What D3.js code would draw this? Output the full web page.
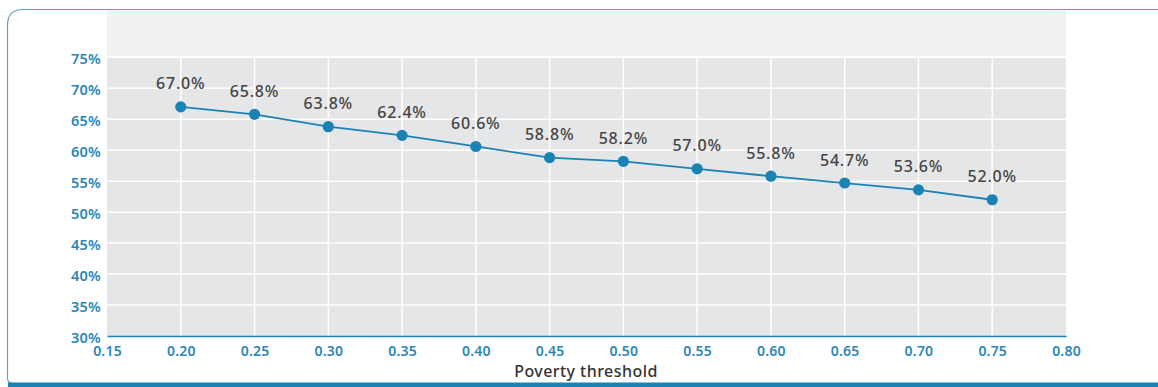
<!DOCTYPE html>
<html>
<head>
<meta charset="utf-8">
<script src="https://cdn.jsdelivr.net/npm/d3@7"></script>
<style>
  html, body { margin: 0; padding: 0; background: #ffffff; }
  svg { display: block; }
</style>
</head>
<body>
<svg id="chart" width="1158" height="387"></svg>
<script>
// Share of population below the poverty line, by threshold
const thresholds = [0.20, 0.25, 0.30, 0.35, 0.40, 0.45, 0.50, 0.55, 0.60, 0.65, 0.70, 0.75];
const shares = [67.0, 65.8, 63.8, 62.4, 60.6, 58.8, 58.2, 57.0, 55.8, 54.7, 53.6, 52.0];
const xTicks = [0.15, 0.20, 0.25, 0.30, 0.35, 0.40, 0.45, 0.50, 0.55, 0.60, 0.65, 0.70, 0.75, 0.80];
const yTicks = [30, 35, 40, 45, 50, 55, 60, 65, 70, 75];
const xTitle = "Poverty threshold";

const FONT = "'Noto Sans', sans-serif";
const BLUE = "#1b82b4";
const TICK_BLUE = "#2a87b8";

const svg = d3.select("#chart");

const plotL = 107, plotR = 1066, plotT = 57.3, plotB = 336;
const x = d3.scaleLinear().domain([0.15, 0.80]).range([plotL, plotR]);
const y = d3.scaleLinear().domain([30, 75]).range([plotB, plotT]);

// Card outline: rounded top-left corner, open to the right
svg.append("path")
  .attr("d", `M1158,9.5 L23,9.5 Q7.5,9.5 7.5,25 L7.5,378 Q7.5,383 12,383`)
  .attr("fill", "none")
  .attr("stroke", "#5aa3cc")
  .attr("stroke-width", 1.2);

// Thick bottom rule
svg.append("rect")
  .attr("x", 8).attr("y", 382.5)
  .attr("width", 1150).attr("height", 5)
  .attr("fill", BLUE);

// Light header band above the plot
svg.append("rect")
  .attr("x", plotL).attr("y", 10.5)
  .attr("width", plotR - plotL).attr("height", plotT - 10.5 - 1)
  .attr("fill", "#f0f1f1");

// Plot background
svg.append("rect")
  .attr("x", plotL).attr("y", plotT)
  .attr("width", plotR - plotL).attr("height", plotB - plotT)
  .attr("fill", "#e5e6e8");

// Gridlines
svg.append("g")
  .selectAll("line")
  .data(yTicks.filter(d => d > 30))
  .join("line")
  .attr("x1", plotL).attr("x2", plotR)
  .attr("y1", d => y(d)).attr("y2", d => y(d))
  .attr("stroke", "#ffffff").attr("stroke-width", 1.5);

svg.append("g")
  .selectAll("line")
  .data(xTicks.filter(d => d > 0.15 && d < 0.80))
  .join("line")
  .attr("x1", d => x(d)).attr("x2", d => x(d))
  .attr("y1", plotT).attr("y2", plotB)
  .attr("stroke", "#ffffff").attr("stroke-width", 1.5);

// Axes
const xAxis = svg.append("g")
  .attr("transform", `translate(0,${plotB})`)
  .call(d3.axisBottom(x).tickValues(xTicks).tickFormat(d3.format(".2f")).tickSize(0).tickPadding(10));
xAxis.select(".domain").attr("stroke", BLUE).attr("stroke-width", 1.5);
xAxis.selectAll("text")
  .attr("fill", TICK_BLUE)
  .style("font-family", FONT).style("font-size", "14px").style("font-weight", 600)
  .style("letter-spacing", "0.2px");

const yAxis = svg.append("g")
  .attr("transform", `translate(${plotL},0)`)
  .call(d3.axisLeft(y).tickValues(yTicks).tickFormat(d => d + "%").tickSize(0).tickPadding(6));
yAxis.select(".domain").remove();
yAxis.selectAll("text")
  .attr("fill", TICK_BLUE)
  .attr("dy", "0.42em")
  .style("font-family", FONT).style("font-size", "14.5px").style("font-weight", 600)
  .style("letter-spacing", "0.2px");

// Axis title
svg.append("text")
  .attr("x", (x(0.15) + x(0.80)) / 2 - 0.5)
  .attr("y", 377)
  .attr("text-anchor", "middle")
  .attr("fill", "#333333")
  .style("font-family", FONT).style("font-size", "16px").style("font-weight", 500)
  .style("letter-spacing", "0.45px")
  .text(xTitle);

// Series
const data = thresholds.map((t, i) => ({ t, v: shares[i] }));

svg.append("path")
  .datum(data)
  .attr("fill", "none")
  .attr("stroke", BLUE)
  .attr("stroke-width", 1.8)
  .attr("d", d3.line().x(d => x(d.t)).y(d => y(d.v)));

svg.append("g")
  .selectAll("circle")
  .data(data)
  .join("circle")
  .attr("cx", d => x(d.t)).attr("cy", d => y(d.v))
  .attr("r", 5.6)
  .attr("fill", BLUE);

svg.append("g")
  .selectAll("text")
  .data(data)
  .join("text")
  .attr("x", d => x(d.t))
  .attr("y", d => y(d.v) - 17.5)
  .attr("text-anchor", "middle")
  .attr("fill", "#444444")
  .style("font-family", FONT).style("font-size", "16px").style("font-weight", 500)
  .style("letter-spacing", "0.8px")
  .text(d => d.v.toFixed(1) + "%");
</script>
</body>
</html>
